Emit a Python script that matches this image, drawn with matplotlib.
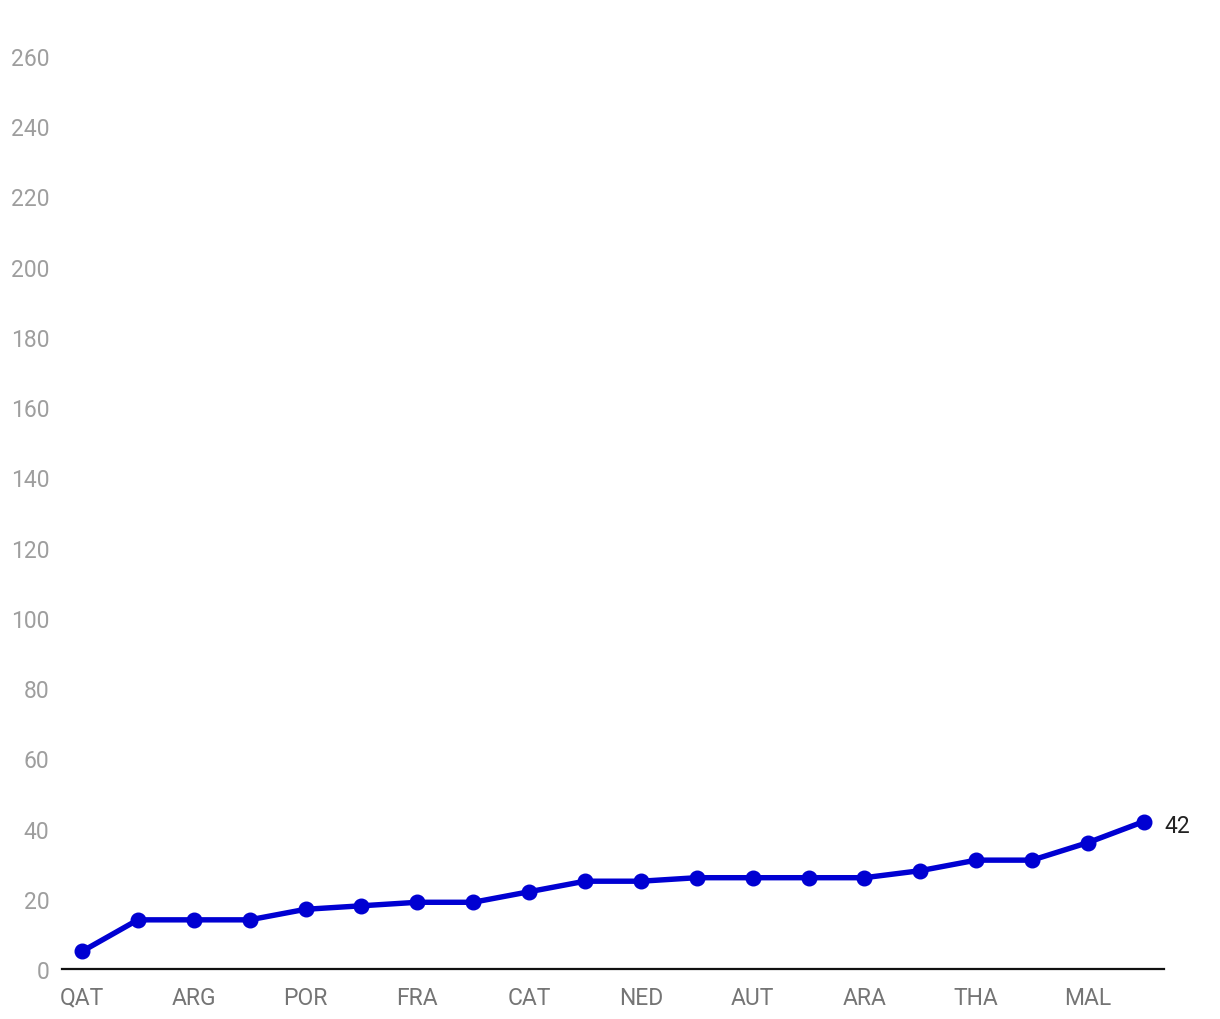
import matplotlib.pyplot as plt
import numpy as np

rounds = ['QAT', 'INA', 'ARG', 'AME', 'POR', 'SPA', 'FRA', 'ITA', 'CAT', 'GER',
          'NED', 'GBR', 'AUT', 'SMR', 'ARA', 'JPN', 'THA', 'AUS', 'MAL', 'VAL']
points = [5, 14, 14, 14, 17, 18, 19, 19, 22, 25, 25, 26, 26, 26, 26, 28, 31, 31, 36, 42]
y_ticks = list(range(0, 261, 20))

plt.rcParams['font.family'] = ['Roboto', 'DejaVu Sans']

W, H = 1220, 1020
fig = plt.figure(figsize=(W / 100, H / 100), dpi=100)
ax = fig.add_axes([62 / W, 50 / H, (1164 - 62) / W, (970 - 57) / H])

x = np.arange(len(rounds))
ax.plot(x, points, color='#0000d2', lw=3.9, marker='o', ms=10.5,
        solid_capstyle='round', clip_on=False, zorder=3)
ax.annotate(str(points[-1]), (x[-1], points[-1]), xytext=(15, -3),
            textcoords='offset points', va='center', ha='left',
            fontsize=16.5, color='#222222')

ax.set_xlim(-0.357, 19.36)
ax.set_ylim(0, 260)
ax.set_xticks(x[::2])
ax.set_xticklabels(rounds[::2])
ax.set_yticks(y_ticks)

for s in ['top', 'right', 'left']:
    ax.spines[s].set_visible(False)
ax.spines['bottom'].set_color('#111111')
ax.spines['bottom'].set_linewidth(1.6)
ax.tick_params(axis='y', length=0, pad=9, labelsize=16.5, labelcolor='#9e9e9e')
ax.tick_params(axis='x', length=0, pad=12, labelsize=16.5, labelcolor='#757575')

fig.savefig('out.png', dpi=100)
